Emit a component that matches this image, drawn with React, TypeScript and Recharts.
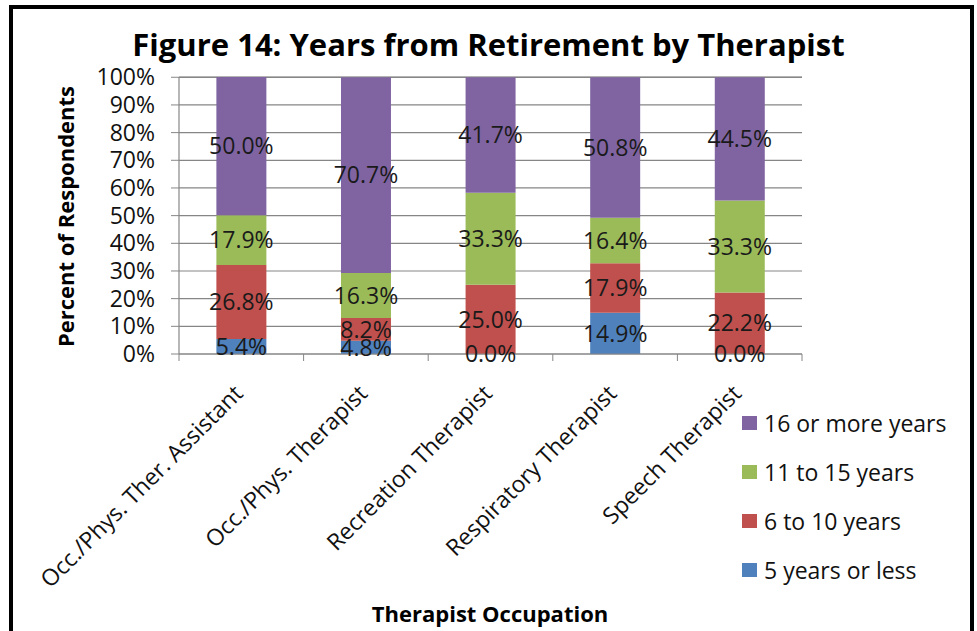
import React from "react";
import { BarChart, Bar, XAxis, YAxis, CartesianGrid, LabelList } from "recharts";

const occupations = [
  "Occ./Phys. Ther. Assistant",
  "Occ./Phys. Therapist",
  "Recreation Therapist",
  "Respiratory Therapist",
  "Speech Therapist",
];

const fiveOrLess = [5.4, 4.8, 0.0, 14.9, 0.0];
const sixToTen = [26.8, 8.2, 25.0, 17.9, 22.2];
const elevenToFifteen = [17.9, 16.3, 33.3, 16.4, 33.3];
const sixteenOrMore = [50.0, 70.7, 41.7, 50.8, 44.5];

const yTicks = [0, 10, 20, 30, 40, 50, 60, 70, 80, 90, 100];

const series = [
  { key: "less5", name: "5 years or less", color: "#4F81BD" },
  { key: "six10", name: "6 to 10 years", color: "#C0504D" },
  { key: "eleven15", name: "11 to 15 years", color: "#9BBB59" },
  { key: "sixteen", name: "16 or more years", color: "#8064A2" },
];

const data = occupations.map((name, i) => ({
  name,
  less5: fiveOrLess[i],
  six10: sixToTen[i],
  eleven15: elevenToFifteen[i],
  sixteen: sixteenOrMore[i],
}));

const FONT = "'Open Sans', sans-serif";
const GRID = "#868686";
const W = 977;
const H = 631;
const PLOT_LEFT = 179;
const PLOT_RIGHT = 802;
const BAND = (PLOT_RIGHT - PLOT_LEFT) / occupations.length;

function XTick(props: any) {
  const { x, y, payload, index } = props;
  const left = x - BAND / 2;
  const right = x + BAND / 2;
  const tx = x + 3;
  const ty = y + 33;
  return (
    <g>
      <line x1={left} y1={y - 8} x2={left} y2={y - 1} stroke={GRID} />
      {index === occupations.length - 1 && (
        <line x1={right} y1={y - 8} x2={right} y2={y - 1} stroke={GRID} />
      )}
      <text
        x={tx}
        y={ty}
        transform={`rotate(-45, ${tx}, ${ty})`}
        textAnchor="end"
        fontFamily={FONT}
        fontSize={23}
        fill="#111"
      >
        {payload.value}
      </text>
    </g>
  );
}

export default function App() {
  return (
    <div
      style={{
        position: "absolute",
        left: 0,
        top: 0,
        width: W,
        height: H,
        background: "#fff",
        overflow: "hidden",
        fontFamily: FONT,
      }}
    >
      <div
        style={{
          position: "absolute",
          left: 9,
          top: 5,
          width: 965,
          height: 660,
          border: "4.5px solid #000",
          boxSizing: "border-box",
        }}
      />
      <div
        style={{
          position: "absolute",
          left: 0,
          width: W,
          top: 24,
          textAlign: "center",
          fontSize: 31,
          fontWeight: 700,
          color: "#000",
          lineHeight: "40px",
        }}
      >
        Figure 14: Years from Retirement by Therapist
      </div>
      <div
        style={{
          position: "absolute",
          left: 50,
          top: 84,
          height: 264,
          writingMode: "vertical-rl",
          transform: "rotate(180deg)",
          textAlign: "center",
          whiteSpace: "nowrap",
          fontSize: 22,
          lineHeight: "30px",
          fontWeight: 700,
          color: "#000",
        }}
      >
        Percent of Respondents
      </div>
      <div
        style={{
          position: "absolute",
          left: 490,
          top: 613,
          transform: "translate(-50%, -50%)",
          whiteSpace: "nowrap",
          fontSize: 22,
          fontWeight: 700,
          color: "#000",
        }}
      >
        Therapist Occupation
      </div>
      <div style={{ position: "absolute", left: 0, top: 0 }}>
        <BarChart
          width={W}
          height={H}
          data={data}
          margin={{ top: 77, right: W - PLOT_RIGHT, left: 0, bottom: 0 }}
          barCategoryGap="30%"
        >
          <CartesianGrid vertical={false} stroke={GRID} strokeWidth={1.2} />
          <XAxis
            dataKey="name"
            height={277}
            axisLine={{ stroke: GRID, strokeWidth: 1.2 }}
            tickLine={false}
            tick={<XTick />}
            interval={0}
          />
          <YAxis
            width={PLOT_LEFT}
            domain={[0, 100]}
            ticks={yTicks}
            interval={0}
            tickFormatter={(v) => `${v}%`}
            axisLine={{ stroke: GRID, strokeWidth: 1.2 }}
            tickLine={{ stroke: GRID }}
            tickSize={8}
            tickMargin={16}
            tick={{ fontFamily: FONT, fontSize: 23, fill: "#111" }}
          />
          {series.map((s) => (
            <Bar
              key={s.key}
              dataKey={s.key}
              name={s.name}
              stackId="a"
              fill={s.color}
              minPointSize={0.01}
              isAnimationActive={false}
            >
              <LabelList
                dataKey={s.key}
                position="center"
                formatter={(v: any) => `${Number(v).toFixed(1)}%`}
                style={{ fontFamily: FONT, fontSize: 23, fill: "#1a1a1a" }}
              />
            </Bar>
          ))}
        </BarChart>
      </div>
      <div style={{ position: "absolute", left: 742, top: 398 }}>
        {[...series].reverse().map((s) => (
          <div
            key={s.key}
            style={{ display: "flex", alignItems: "center", height: 49 }}
          >
            <span
              style={{
                width: 15,
                height: 14,
                background: s.color,
                marginRight: 7,
                display: "inline-block",
              }}
            />
            <span style={{ fontSize: 23, color: "#111", lineHeight: "30px" }}>
              {s.name}
            </span>
          </div>
        ))}
      </div>
    </div>
  );
}
